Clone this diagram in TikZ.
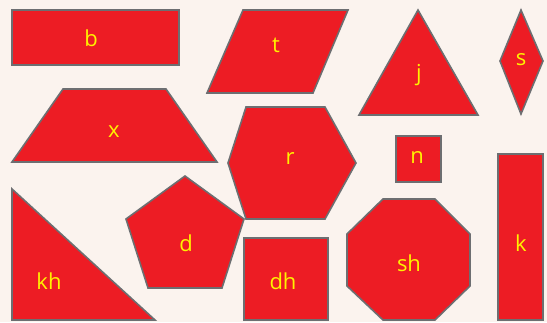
\documentclass[tikz,border=0pt]{standalone}
\usepackage{fontspec}
\setmainfont{Open Sans}
\usetikzlibrary{calc}

\definecolor{shapeRed}{HTML}{ED1C24}
\definecolor{edgeGrey}{HTML}{6D6E71}
\definecolor{labelYellow}{HTML}{FFF200}
\definecolor{paper}{HTML}{FBF3EE}

\begin{document}
\begin{tikzpicture}[
    x=1pt, y=-1pt,
    piece/.style={fill=shapeRed, draw=edgeGrey, line width=1.6pt, line join=miter},
    lbl/.style={text=labelYellow, anchor=base, inner sep=0pt,
                font=\fontsize{22}{22}\selectfont},
  ]

  % Canvas (pixel units, y grows downwards)
  \fill[paper] (0,0) rectangle (547,322);
  \useasboundingbox (0,0) rectangle (547,322);

  % ── Top row ─────────────────────────────────────────────────────────
  \draw[piece] (12,10) rectangle (179,65);
  \node[lbl] (b) at (91,46) {b};

  \draw[piece] (243,10) -- (348,10) -- (313,93) -- (207,93) -- cycle;
  \node[lbl] (t) at (276,52) {t};

  \draw[piece] (418,10) -- (478,115) -- (359,115) -- cycle;
  \node[lbl] (j) at (419,80) {j};

  \draw[piece] (521,10) -- (543,61) -- (521,114) -- (500,61) -- cycle;
  \node[lbl] (s) at (521,65) {s};

  % ── Middle row ──────────────────────────────────────────────────────
  \draw[piece] (63,89) -- (166,89) -- (217,162) -- (12,162) -- cycle;
  \node[lbl] (x) at (114,137) {x};

  \draw[piece] (246,107) -- (325,107) -- (356,163) -- (325,219)
    -- (246,219) -- (228,163) -- cycle;
  \node[lbl] (r) at (290,164) {r};

  \draw[piece] (396,136) rectangle (441,182);
  \node[lbl] (n) at (417,163) {n};

  % ── Bottom row ──────────────────────────────────────────────────────
  \draw[piece] (12,189) -- (155,320) -- (12,320) -- cycle;
  \node[lbl] (kh) at (49,289) {kh};

  \draw[piece] (185,176) -- (244,219) -- (222,288) -- (148,288)
    -- (126,219) -- cycle;
  \node[lbl] (d) at (186,251) {d};

  \draw[piece] (244,238) rectangle (328,320);
  \node[lbl] (dh) at (283,289) {dh};

  \draw[piece] (383,199) -- (435,199) -- (470,234) -- (470,286)
    -- (435,320) -- (383,320) -- (347,286) -- (347,234) -- cycle;
  \node[lbl] (sh) at (409,271) {sh};

  \draw[piece] (498,154) rectangle (543,320);
  \node[lbl] (k) at (521,251) {k};

\end{tikzpicture}
\end{document}
